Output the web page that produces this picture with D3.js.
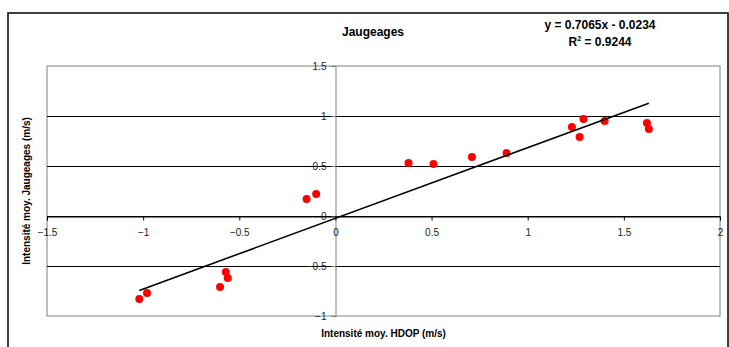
<!DOCTYPE html>
<html lang="fr">
<head>
<meta charset="UTF-8">
<title>Jaugeages</title>
<script src="https://d3js.org/d3.v7.min.js"></script>
<style>
  body { margin: 0; background: #fff; }
  text { font-family: "Liberation Sans", Arial, sans-serif; }
</style>
</head>
<body>
<svg id="chart"></svg>
<script>
// data
const hdop = [-1.02, -0.98, -0.60, -0.57, -0.56, -0.15, -0.10, 0.38, 0.51, 0.71, 0.89, 1.23, 1.27, 1.29, 1.40, 1.62, 1.63];
const jaug = [-0.83, -0.77, -0.71, -0.56, -0.62, 0.17, 0.22, 0.53, 0.52, 0.59, 0.63, 0.89, 0.79, 0.97, 0.95, 0.93, 0.87];
const xTicks = [-1.5, -1, -0.5, 0, 0.5, 1, 1.5, 2];
const yTicks = [-1, -0.5, 0, 0.5, 1, 1.5];
const slope = 0.7065, intercept = -0.0234, r2 = 0.9244;

const W = 729, H = 347;
const m = {l: 47, r: 9, t: 66, b: 31};
const svg = d3.select('#chart').attr('width', W).attr('height', H);

// outer chart frame
svg.append('rect').attr('x', 8).attr('y', 13).attr('width', 720).attr('height', 360)
    .attr('fill', 'none').attr('stroke', '#000').attr('stroke-width', 1.5);

const x = d3.scaleLinear().domain([-1.5, 2]).range([m.l, W - m.r]);
const y = d3.scaleLinear().domain([-1, 1.5]).range([H - m.b, m.t]);

// plot area border
svg.append('rect').attr('x', x(-1.5)).attr('y', y(1.5))
    .attr('width', x(2) - x(-1.5)).attr('height', y(-1) - y(1.5))
    .attr('fill', 'none').attr('stroke', '#808080').attr('stroke-width', 1);

// horizontal gridlines
svg.selectAll('line.grid').data(yTicks.filter(d => d > -1 && d < 1.5))
    .join('line').attr('class', 'grid')
    .attr('x1', x(-1.5)).attr('x2', x(2))
    .attr('y1', d => Math.round(y(d)) + 0.5).attr('y2', d => Math.round(y(d)) + 0.5)
    .attr('stroke', '#000').attr('stroke-width', 1);

// y axis at x = 0
const yAxis = d3.axisLeft(y).tickValues(yTicks).tickSize(4).tickPadding(5)
    .tickFormat(d3.format(''));
const gy = svg.append('g').attr('transform', `translate(${Math.round(x(0)) + 0.5},0)`).call(yAxis);
gy.select('.domain').attr('stroke', '#808080');
gy.selectAll('.tick line').attr('stroke', '#808080');
gy.selectAll('text').attr('font-size', 10).attr('fill', '#222')
    .attr('font-family', '"Liberation Sans", Arial, sans-serif');

// x axis at y = 0
const xAxis = d3.axisBottom(x).tickValues(xTicks).tickSize(4).tickPadding(8)
    .tickFormat(d3.format(''));
const gx = svg.append('g').attr('transform', `translate(0,${Math.round(y(0)) + 0.5})`).call(xAxis);
gx.select('.domain').attr('stroke', '#000');
gx.selectAll('.tick line').attr('stroke', '#000');
gx.selectAll('text').attr('font-size', 10).attr('fill', '#222')
    .attr('font-family', '"Liberation Sans", Arial, sans-serif');

// points
svg.selectAll('circle.pt').data(hdop.map((d, i) => [d, jaug[i]]))
    .join('circle').attr('class', 'pt')
    .attr('cx', d => x(d[0])).attr('cy', d => y(d[1])).attr('r', 4)
    .attr('fill', '#ff0000');

// linear trend line
const [x0, x1] = d3.extent(hdop);
svg.append('line')
    .attr('x1', x(x0)).attr('y1', y(slope * x0 + intercept))
    .attr('x2', x(x1)).attr('y2', y(slope * x1 + intercept))
    .attr('stroke', '#000').attr('stroke-width', 1.6);

// titles
svg.append('text').attr('x', 373).attr('y', 35.5).attr('text-anchor', 'middle')
    .attr('font-size', 12).attr('font-weight', 'bold').text('Jaugeages');

svg.append('text').attr('x', 600).attr('y', 28.5).attr('text-anchor', 'middle')
    .attr('font-size', 12).attr('font-weight', 'bold')
    .text(`y = ${slope}x - ${Math.abs(intercept)}`);
const rt = svg.append('text').attr('x', 600).attr('y', 46).attr('text-anchor', 'middle')
    .attr('font-size', 12).attr('font-weight', 'bold');
rt.append('tspan').text('R');
rt.append('tspan').attr('font-size', 7).attr('dy', -5).text('2');
rt.append('tspan').attr('dy', 5).text(` = ${r2}`);

svg.append('text').attr('x', (x(-1.5) + x(2)) / 2).attr('y', 337).attr('text-anchor', 'middle')
    .attr('font-size', 10).attr('font-weight', 'bold').text('Intensité moy. HDOP (m/s)');

svg.append('text').attr('transform', `translate(30,${(y(1.5) + y(-1)) / 2}) rotate(-90)`)
    .attr('text-anchor', 'middle').attr('font-size', 10).attr('font-weight', 'bold')
    .text('Intensité moy. Jaugeages (m/s)');
</script>
</body>
</html>
